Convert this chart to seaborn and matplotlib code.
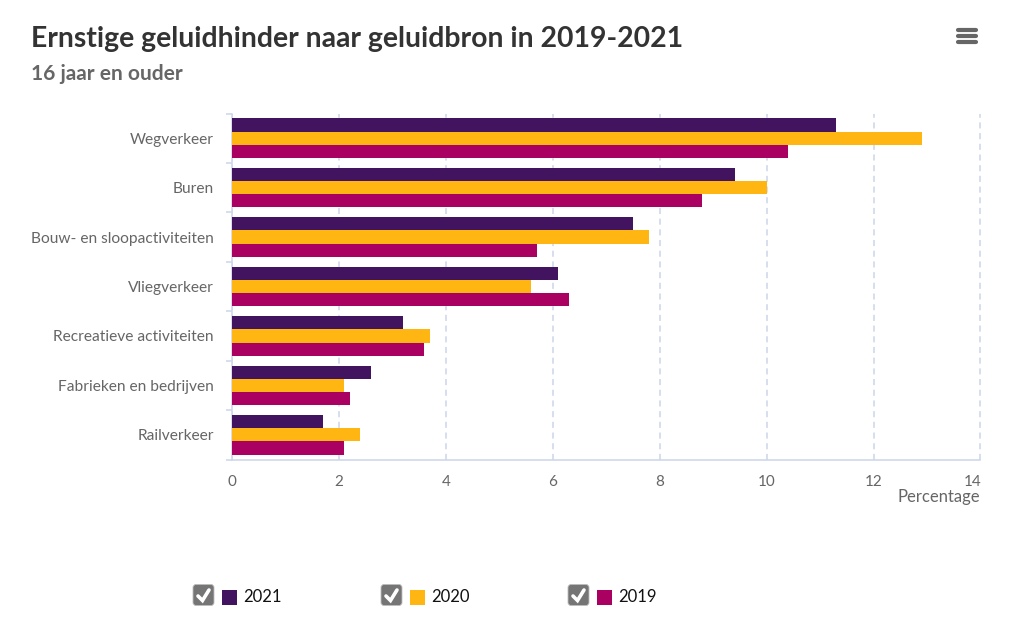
import matplotlib
matplotlib.use("Agg")
import matplotlib.pyplot as plt
from matplotlib.patches import FancyBboxPatch, Rectangle
from matplotlib.lines import Line2D
from matplotlib.transforms import ScaledTranslation
import pandas as pd
import seaborn as sns

categories = ["Wegverkeer", "Buren", "Bouw- en sloopactiviteiten", "Vliegverkeer",
              "Recreatieve activiteiten", "Fabrieken en bedrijven", "Railverkeer"]
values_2021 = [11.3, 9.4, 7.5, 6.1, 3.2, 2.6, 1.7]
values_2020 = [12.9, 10.0, 7.8, 5.6, 3.7, 2.1, 2.4]
values_2019 = [10.4, 8.8, 5.7, 6.3, 3.6, 2.2, 2.1]
years = ["2021", "2020", "2019"]
colors = ["#42145f", "#ffb612", "#a90061"]
x_ticks = [0, 2, 4, 6, 8, 10, 12, 14]
title = "Ernstige geluidhinder naar geluidbron in 2019-2021"
subtitle = "16 jaar en ouder"
x_label = "Percentage"

W, H = 1034, 643
sns.set_theme(style="white")
plt.rcParams["font.family"] = ["Lato", "DejaVu Sans"]

df = pd.DataFrame({
    "categorie": categories * 3,
    "jaar": sum([[y] * len(categories) for y in years], []),
    "waarde": values_2021 + values_2020 + values_2019,
})

fig = plt.figure(figsize=(W / 100, H / 100), dpi=100, facecolor="white")
ax = fig.add_axes([232 / W, 1 - 459.5 / H, (980.5 - 232) / W, (459.5 - 113.5) / H])
sns.barplot(data=df, y="categorie", x="waarde", hue="jaar", hue_order=years,
            palette=dict(zip(years, colors)), orient="h", saturation=1,
            width=0.8, ax=ax, legend=False, zorder=3, errorbar=None, linewidth=0)

axis_col = "#ccd6eb"
text_col = "#666666"
ax.set_xlim(0, 14)
ax.set_ylim(len(categories) - 0.5, -0.5)
ax.set_xlabel("")
ax.set_ylabel("")
ax.set_xticks(x_ticks)
ax.set_xticklabels([str(t) for t in x_ticks])
ax.grid(False)
ax.xaxis.grid(True, color=axis_col, linestyle=(0, (4, 3)), linewidth=1.1, zorder=0)
ax.set_axisbelow(True)
ax.set_yticks(range(len(categories)))
ax.set_yticklabels(categories)
ax.set_yticks([i - 0.5 for i in range(len(categories) + 1)], minor=True)
ax.tick_params(axis="y", which="minor", length=4, width=1.1, color=axis_col, left=True)
ax.tick_params(axis="y", which="major", length=0, pad=13, labelsize=11.2, labelcolor=text_col)
ax.tick_params(axis="x", which="major", length=0, pad=11, labelsize=11, labelcolor=text_col)
for tick in ax.yaxis.get_major_ticks():
    tick.label1.set_verticalalignment("center_baseline")
xt = ax.get_xticklabels()
xt[-1].set_ha("right")
xt[-1].set_transform(xt[-1].get_transform() + ScaledTranslation(1 / 100, 0, fig.dpi_scale_trans))
for s in ["top", "right"]:
    ax.spines[s].set_visible(False)
for s in ["left", "bottom"]:
    ax.spines[s].set_color(axis_col)
    ax.spines[s].set_linewidth(1.1)

fig.text(31 / W, 1 - 39 / H, title, fontsize=20.4, fontweight="bold", color="#333333",
         ha="left", va="center")
fig.text(31 / W, 1 - 74 / H, subtitle, fontsize=15, fontweight="bold", color=text_col,
         ha="left", va="center")
fig.text(980.5 / W, 1 - 497 / H, x_label, fontsize=12, color=text_col, ha="right", va="center")

# Menu icon
for yy in [29.5, 36, 42]:
    fig.add_artist(Line2D([958 / W, 976 / W], [1 - yy / H] * 2, color="#666666", linewidth=3,
                          solid_capstyle="round"))

# Legend with check boxes
for x0, year, col in zip([193, 381, 568], years, colors):
    fig.add_artist(FancyBboxPatch((x0 / W, 1 - 605.5 / H), 21 / W, 21 / H,
                                  boxstyle="round,pad=0,rounding_size=0.003",
                                  transform=fig.transFigure, facecolor="#757575",
                                  edgecolor="#bdbdbd", linewidth=0.6, mutation_aspect=W / H))
    fig.add_artist(Line2D([(x0 + 5) / W, (x0 + 9.5) / W, (x0 + 16) / W],
                          [1 - 596 / H, 1 - 600.5 / H, 1 - 590 / H],
                          color="white", linewidth=2.6, solid_capstyle="round",
                          solid_joinstyle="miter"))
    fig.add_artist(Rectangle(((x0 + 29) / W, 1 - 605 / H), 15 / W, 15 / H,
                             transform=fig.transFigure, facecolor=col, edgecolor="none"))
    fig.text((x0 + 50) / W, 1 - 597 / H, year, fontsize=12, color="#111111",
             ha="left", va="center")

fig.savefig("out.png", dpi=100, facecolor="white")
